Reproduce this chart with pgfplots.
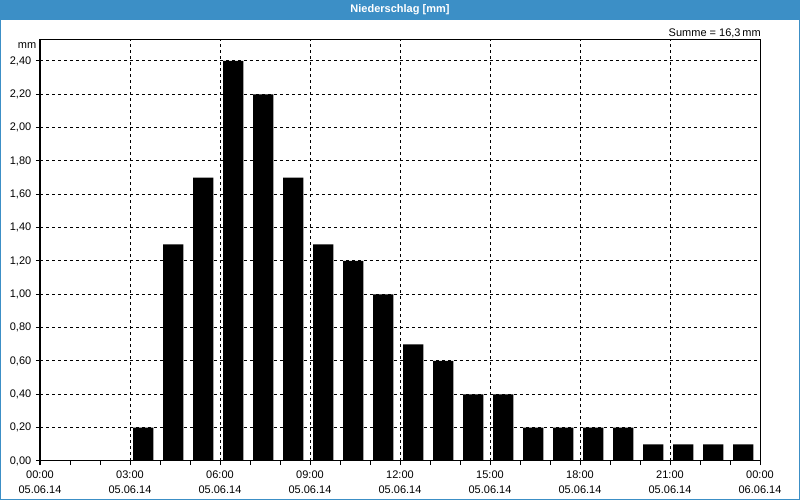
\documentclass[border=0pt]{standalone}
\usepackage{pgfplots}
\pgfplotsset{compat=1.18}
\usepackage{fontspec}
\setmainfont{Liberation Sans}
\definecolor{titleblue}{HTML}{3C8FC6}
\begin{document}
\begin{tikzpicture}[x=0.75pt,y=0.75pt]
\fill[white] (0,0) rectangle (800,500);
\fill[titleblue] (0,480) rectangle (800,500);
\draw[titleblue, line width=0.75pt] (0.375,0.375) rectangle (799.625,499.625);
\node[white, font=\bfseries\fontsize{8.25}{10}\selectfont, inner sep=0pt] at (400,490) {Niederschlag [mm]};
\begin{axis}[
  at={(30pt,29.25pt)}, anchor=south west, scale only axis,
  width=540pt, height=315.75pt,
  xmin=0, xmax=24, ymin=0, ymax=2.526,
  axis line style={black, line width=0.75pt},
  tick style={black, line width=0.75pt},
  tick align=outside, tick pos=left,
  major tick length=3pt, minor tick length=3pt,
  xtick={0,3,...,24}, minor x tick num=2,
  xticklabels={{00:00\\05.06.14},{03:00\\05.06.14},{06:00\\05.06.14},{09:00\\05.06.14},{12:00\\05.06.14},{15:00\\05.06.14},{18:00\\05.06.14},{21:00\\05.06.14},{00:00\\06.06.14}},
  xticklabel style={align=center, font=\fontsize{8.25}{11.25}\selectfont, inner sep=0pt, yshift=-4pt},
  ytick={0,0.2,0.4,0.6,0.8,1.0,1.2,1.4,1.6,1.8,2.0,2.2,2.4},
  yticklabel style={font=\fontsize{8.25}{10}\selectfont, /pgf/number format/.cd, fixed, fixed zerofill, precision=2, use comma, assume math mode=true},
  grid=major,
  major grid style={black, line width=0.75pt, dash pattern=on 2.25pt off 2.25pt},
  ybar, bar width=0.68,
  axis background/.style={fill=white},
]
\addplot[fill=black, draw=none] coordinates {
(3.44,0.2) (4.44,1.3) (5.44,1.7) (6.44,2.4) (7.44,2.2) (8.44,1.7)
(9.44,1.3) (10.44,1.2) (11.44,1.0) (12.44,0.7) (13.44,0.6) (14.44,0.4)
(15.44,0.4) (16.44,0.2) (17.44,0.2) (18.44,0.2) (19.44,0.2) (20.44,0.1)
(21.44,0.1) (22.44,0.1) (23.44,0.1)
};
\end{axis}
\node[anchor=east, font=\fontsize{8.25}{10}\selectfont, inner sep=0pt] at (36.5,454) {mm};
\node[anchor=east, font=\fontsize{8.25}{10}\selectfont, inner sep=0pt] at (761,467) {Summe = 16,3\,mm};
\pgfresetboundingbox
\path (0,0) rectangle (800,500);
\end{tikzpicture}
\end{document}
